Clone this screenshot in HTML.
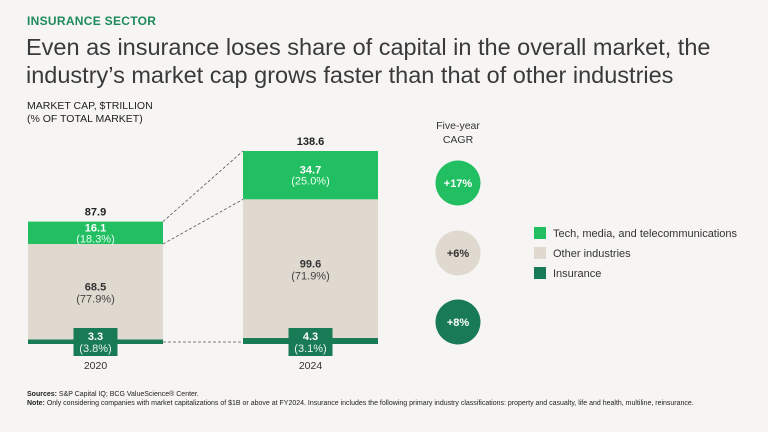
<!DOCTYPE html>
<html><head><meta charset="utf-8"><style>
body{margin:0;background:#f6f5f3;font-family:"Liberation Sans",sans-serif;}
#wrap{position:relative;width:768px;height:432px;overflow:hidden;background:#f6f5f3;}
.t{position:absolute;white-space:nowrap;}
</style></head><body>
<div id="wrap">
<div class="t" style="left:27px;top:14px;font-size:12px;font-weight:bold;color:#1e8a5c;letter-spacing:0.3px">INSURANCE SECTOR</div>
<div class="t" style="left:26px;top:33px;font-size:23.5px;line-height:28px;color:#3a3a3a">Even as insurance loses share of capital in the overall market, the<br>industry’s market cap grows faster than that of other industries</div>
<div class="t" style="left:27px;top:100px;font-size:10.5px;line-height:13px;color:#222">MARKET CAP, $TRILLION<br>(% OF TOTAL MARKET)</div>
<svg id="chart" width="768" height="432" style="position:absolute;left:0;top:0"></svg>
<div class="t" style="left:27px;top:391px;font-size:7px;color:#222"><b>Sources:</b> S&amp;P Capital IQ; BCG ValueScience® Center.</div>
<div class="t" style="left:27px;top:400px;font-size:7px;color:#222"><b>Note:</b> Only considering companies with market capitalizations of $1B or above at FY2024. Insurance includes the following primary industry classifications: property and casualty, life and health, multiline, reinsurance.</div>
</div>
<script>
const years=["2020","2024"];
const insurance=[3.3,4.3];
const other=[68.5,99.6];
const tech=[16.1,34.7];
const totals=["87.9","138.6"];
const insPct=["(3.8%)","(3.1%)"];
const otherPct=["(77.9%)","(71.9%)"];
const techPct=["(18.3%)","(25.0%)"];
const cagrLabels=["+17%","+6%","+8%"];
const legendLabels=["Tech, media, and telecommunications","Other industries","Insurance"];
const colors={tech:"#21bf61",other:"#dfd9cf",ins:"#197a56"};
const NS="http://www.w3.org/2000/svg";
const svg=document.getElementById('chart');
const base=344,scale=193/138.6;
const y=v=>base-v*scale;
const barX=i=>28+i*215, barW=135;
function mk(tag,attrs,parent){const e=document.createElementNS(NS,tag);for(const k in attrs)e.setAttribute(k,attrs[k]);(parent||svg).appendChild(e);return e;}
function txt(x,yy,s,size,fill,weight,name){const e=mk('text',{x:x,y:yy,'font-size':size,fill:fill,'text-anchor':'middle','font-family':'Liberation Sans, sans-serif','font-weight':weight||'normal'});e.textContent=s;


return e;}
const tops=[],techBottoms=[];
years.forEach((yr,i)=>{
  const x=barX(i),cx=x+barW/2;
  const y0=y(insurance[i]),y1=y(insurance[i]+other[i]),y2=y(insurance[i]+other[i]+tech[i]);
  tops.push(y2);techBottoms.push(y1);
  let r=mk('rect',{x:x,y:y0,width:barW,height:base-y0,fill:colors.ins});
  
  
  r=mk('rect',{x:x,y:y1,width:barW,height:y0-y1,fill:colors.other});
  
  
  r=mk('rect',{x:x,y:y2,width:barW,height:y1-y2,fill:colors.tech});
  
  
  txt(cx,y2-6,totals[i],11,'#222','bold','total-label-'+yr);
  const tm=(y1+y2)/2;
  txt(cx,tm-1.5,tech[i].toFixed(1),11,'#fff','bold','tech-value-'+yr);
  txt(cx,tm+9.5,techPct[i],11,'#eafff2','normal','tech-pct-'+yr);
  const om=(y0+y1)/2;
  txt(cx,om-1,other[i].toFixed(1),11,'#333','bold','other-value-'+yr);
  txt(cx,om+11,otherPct[i],11,'#444','normal','other-pct-'+yr);
  r=mk('rect',{x:cx-22,y:base-16,width:44,height:28,fill:colors.ins});
  
  
  txt(cx,base-4,insurance[i].toFixed(1),11,'#fff','bold','insurance-value-'+yr);
  txt(cx,base+8,insPct[i],11,'#e6f3ec','normal','insurance-pct-'+yr);
  txt(cx,base+25,yr,10.5,'#333','normal','x-label-'+yr);
});
const x0=barX(0)+barW,x1=barX(1);
[[tops[0],tops[1],'top'],[techBottoms[0],techBottoms[1],'tech'],[base-2,base-2,'base']].forEach(p=>{
  const l=mk('line',{x1:x0,y1:p[0],x2:x1,y2:p[1],stroke:'#555','stroke-width':0.8,'stroke-dasharray':'3,2'});
  
  
});
txt(458,129,'Five-year',10.5,'#333','normal','cagr-header-1');
txt(458,143,'CAGR',10.5,'#333','normal','cagr-header-2');
const cc=[colors.tech,colors.other,colors.ins],ct=['#fff','#333','#fff'],cy=[183,253,322];
cagrLabels.forEach((s,i)=>{
  const c=mk('circle',{cx:458,cy:cy[i],r:22.5,fill:cc[i]});
  
  
  txt(458,cy[i]+4,s,11,ct[i],'bold','cagr-label-'+i);
});
legendLabels.forEach((s,i)=>{
  const r=mk('rect',{x:534,y:227+i*20,width:12,height:12,fill:cc[i]});
  
  
  const t=txt(553,237+i*20,s,11,'#333','normal','legend-entry-'+i);
  t.setAttribute('text-anchor','start');
});
</script>
</body></html>
